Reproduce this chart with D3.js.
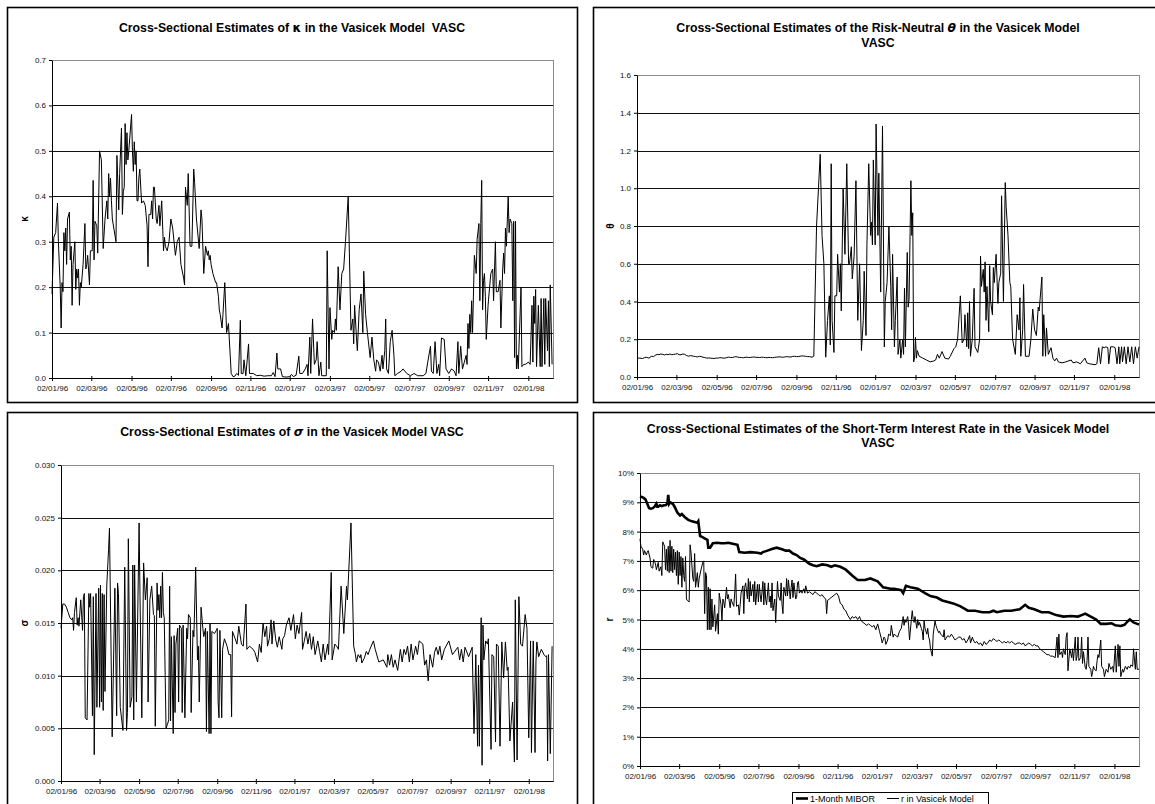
<!DOCTYPE html>
<html>
<head>
<meta charset="utf-8">
<script src="https://cdn.jsdelivr.net/npm/d3@7"></script>
<style>
  html, body { margin: 0; padding: 0; background: #fff; }
  svg { display: block; }
  text { font-family: "Liberation Sans", Arial, Helvetica, sans-serif; white-space: pre; }
</style>
</head>
<body>
<svg id="chart" width="1155" height="804"></svg>
<script>
// ---- Observation axis (trading days) and its date labels ----
const obsLast = 548;
const dateTickObs = [0, 43, 87, 130, 174, 217, 260, 304, 347, 391, 434, 477, 521];
const dateLabels = ["02/01/96", "02/03/96", "02/05/96", "02/07/96", "02/09/96", "02/11/96",
  "02/01/97", "02/03/97", "02/05/97", "02/07/97", "02/09/97", "02/11/97", "02/01/98"];

// ---- Y tick values per panel ----
const kappaTicks = [0, 0.1, 0.2, 0.3, 0.4, 0.5, 0.6, 0.7];
const thetaTicks = [0, 0.2, 0.4, 0.6, 0.8, 1.0, 1.2, 1.4, 1.6];
const sigmaTicks = [0, 0.005, 0.010, 0.015, 0.020, 0.025, 0.030];
const rateTicks = [0, 1, 2, 3, 4, 5, 6, 7, 8, 9, 10];

// ---- Series: [observation, value] ----
const kappa = [[0,.185],[2,.31],[4,.32],[6,.385],[7,.3],[9,.2],[10,.11],[11,.21],[12,.19],[13,.32],[14,.28],[15,.33],[16,.25],[17,.35],[19,.365],[20,.26],[21,.29],[22,.16],[23,.25],[25,.3],[26,.195],[27,.24],[28,.22],[29,.24],[30,.16],[31,.21],[32,.2],[34,.25],[36,.34],[37,.24],[38,.25],[39,.27],[41,.205],[42,.28],[44,.28],[45,.435],[46,.26],[47,.345],[49,.335],[50,.275],[52,.5],[54,.48],[56,.285],[58,.35],[60,.39],[61,.35],[62,.45],[63,.4],[64,.44],[65,.39],[66,.35],[70,.3],[71,.49],[73,.37],[74,.45],[76,.55],[77,.36],[78,.41],[79,.42],[80,.56],[81,.47],[82,.54],[83,.48],[84,.5],[87,.58],[88,.5],[89,.455],[90,.52],[91,.47],[92,.5],[93,.39],[94,.39],[95,.44],[96,.46],[98,.385],[100,.39],[102,.38],[104,.335],[105,.245],[106,.36],[108,.36],[109,.39],[110,.35],[111,.42],[112,.42],[114,.35],[115,.34],[117,.38],[118,.335],[120,.39],[122,.28],[123,.31],[124,.29],[126,.28],[128,.3],[130,.35],[132,.33],[135,.27],[137,.3],[139,.31],[141,.25],[144,.22],[145,.205],[146,.42],[148,.38],[149,.45],[151,.29],[153,.29],[155,.46],[156,.43],[158,.35],[161,.285],[163,.37],[164,.35],[166,.23],[168,.29],[170,.27],[171,.28],[172,.26],[173,.27],[174,.25],[176,.23],[179,.21],[180,.21],[182,.18],[183,.15],[184,.14],[186,.11],[187,.14],[189,.21],[191,.1],[193,.12],[196,.01],[198,.003],[200,.004],[202,.01],[204,.006],[206,.127],[207,.01],[209,.01],[210,.04],[212,.005],[215,.075],[216,.01],[220,.01],[224,.005],[228,.006],[232,.004],[236,.005],[240,.005],[242,.012],[244,.003],[246,.055],[247,.02],[250,.02],[252,.003],[256,.002],[260,.003],[262,.008],[264,.003],[267,.006],[270,.048],[271,.01],[274,.01],[277,.02],[279,.03],[280,.005],[282,.09],[283,.01],[285,.13],[287,.03],[289,.04],[290,.08],[292,.005],[294,.035],[295,.005],[300,.005],[301,.28],[303,.02],[304,.155],[306,.085],[307,.105],[309,.1],[310,.13],[311,.105],[313,.245],[315,.15],[317,.23],[319,.24],[321,.3],[324,.4],[327,.105],[329,.13],[330,.075],[331,.16],[333,.09],[334,.06],[336,.15],[338,.185],[340,.1],[341,.235],[343,.14],[345,.1],[348,.045],[350,.09],[352,.04],[354,.015],[355,.04],[357,.035],[359,.015],[361,.05],[362,.02],[364,.06],[365,.13],[366,.02],[368,.01],[370,.08],[372,.105],[374,.05],[375,.005],[378,.01],[382,.015],[384,.02],[388,.01],[392,.005],[396,.01],[400,.005],[406,.005],[409,.01],[411,.035],[414,.07],[415,.015],[417,.01],[419,.08],[421,.01],[423,.03],[424,.005],[426,.088],[429,.085],[431,.02],[434,.01],[437,.02],[440,.015],[442,.005],[444,.08],[445,.01],[447,.07],[449,.02],[451,.035],[453,.05],[454,.03],[455,.12],[456,.065],[457,.14],[458,.1],[459,.17],[460,.1],[462,.27],[464,.23],[465,.305],[467,.34],[468,.17],[469,.34],[470,.435],[471,.15],[472,.215],[473,.23],[474,.18],[475,.085],[477,.16],[478,.185],[480,.23],[482,.24],[483,.17],[485,.3],[486,.19],[488,.19],[490,.215],[491,.11],[493,.24],[494,.275],[495,.23],[496,.33],[497,.29],[499,.4],[500,.32],[501,.35],[503,.34],[504,.17],[505,.345],[506,.045],[507,.345],[508,.02],[509,.05],[510,.02],[513,.2],[514,.025],[516,.03],[518,.03],[521,.035],[523,.03],[525,.16],[526,.035],[527,.18],[528,.12],[529,.195],[530,.025],[532,.16],[534,.025],[535,.175],[536,.025],[538,.175],[539,.03],[540,.175],[542,.06],[543,.17],[544,.025],[545,.205],[547,.03]];

const theta = [[0,.1],[3,.1],[6,.098],[8,.102],[10,.105],[13,.1],[16,.11],[18,.108],[20,.115],[22,.12],[24,.118],[26,.122],[28,.12],[30,.117],[32,.12],[34,.118],[36,.122],[38,.118],[40,.12],[42,.121],[44,.124],[46,.118],[48,.118],[50,.122],[52,.12],[54,.114],[56,.11],[58,.113],[60,.112],[62,.11],[64,.108],[66,.106],[68,.11],[70,.108],[72,.105],[74,.103],[76,.1],[78,.101],[80,.1],[82,.099],[84,.098],[86,.1],[88,.1],[90,.102],[92,.102],[94,.1],[96,.1],[98,.103],[100,.105],[102,.104],[104,.103],[106,.106],[108,.108],[110,.105],[112,.104],[114,.103],[116,.102],[118,.104],[120,.105],[122,.103],[124,.104],[126,.105],[128,.106],[130,.104],[132,.104],[134,.103],[136,.105],[138,.104],[140,.103],[142,.102],[144,.104],[146,.103],[148,.102],[150,.104],[152,.105],[154,.106],[156,.107],[158,.105],[160,.105],[162,.107],[164,.108],[166,.106],[168,.106],[170,.109],[172,.11],[174,.108],[176,.108],[178,.11],[180,.112],[182,.111],[184,.11],[186,.108],[188,.108],[190,.106],[191,.105],[193,.11],[196,.8],[200,1.18],[202,.75],[204,.6],[206,.105],[208,.3],[210,.43],[211,.17],[212,1.13],[213,.3],[215,.13],[216,.43],[218,.43],[219,.65],[221,.45],[222,.6],[223,.35],[225,1.0],[227,.65],[229,1.13],[231,.6],[232,.6],[234,.69],[235,.52],[237,.64],[239,1.04],[241,.3],[243,.6],[245,.14],[247,.3],[248,.56],[250,.22],[251,.7],[253,1.13],[255,.75],[256,.82],[257,.7],[258,1.15],[260,.7],[261,1.34],[263,.75],[264,1.08],[266,.45],[268,1.33],[270,.16],[271,.4],[273,.5],[275,.8],[277,.48],[278,.25],[279,.65],[281,.16],[282,.3],[284,.53],[285,.12],[287,.2],[288,.1],[290,.2],[291,.12],[292,.47],[293,.16],[295,.66],[296,.37],[297,.41],[299,1.04],[300,.75],[301,.87],[302,.08],[303,.1],[304,.21],[305,.1],[306,.14],[308,.11],[312,.1],[316,.09],[320,.08],[324,.085],[326,.09],[328,.12],[330,.1],[333,.135],[336,.1],[340,.095],[342,.11],[346,.15],[348,.16],[350,.2],[353,.43],[355,.18],[357,.2],[358,.33],[360,.16],[361,.34],[362,.15],[363,.4],[364,.11],[366,.2],[368,.47],[369,.16],[372,.13],[374,.2],[375,.64],[376,.48],[378,.57],[379,.45],[380,.61],[381,.3],[382,.48],[384,.24],[385,.59],[386,.4],[388,.33],[389,.58],[390,.5],[392,.65],[394,.39],[395,.5],[397,.55],[398,.96],[400,.4],[402,1.03],[403,.9],[405,.75],[407,.5],[408,.48],[410,.2],[413,.12],[415,.33],[417,.25],[418,.42],[419,.11],[421,.25],[422,.49],[424,.11],[428,.11],[430,.2],[432,.36],[434,.25],[436,.22],[438,.37],[439,.35],[442,.53],[443,.11],[444,.33],[446,.11],[447,.26],[449,.12],[452,.155],[454,.1],[456,.085],[458,.1],[460,.08],[464,.075],[468,.08],[474,.09],[476,.075],[480,.08],[484,.07],[489,.1],[491,.075],[494,.07],[500,.065],[502,.07],[504,.155],[506,.07],[508,.16],[510,.155],[512,.16],[514,.155],[515,.07],[517,.16],[520,.16],[522,.155],[524,.07],[526,.16],[527,.07],[529,.16],[530,.08],[532,.16],[534,.07],[536,.16],[538,.08],[540,.16],[542,.07],[544,.16],[546,.1],[548,.16]];

const sigma = [[0,.0145],[2,.0168],[4,.0168],[6,.0165],[8,.016],[10,.0155],[12,.0153],[13,.0155],[14,.0143],[15,.016],[17,.0174],[18,.0148],[19,.0155],[20,.0147],[22,.0172],[24,.0143],[25,.0175],[26,.0178],[27,.006],[29,.0058],[31,.0178],[32,.0165],[33,.0178],[35,.0062],[36,.0175],[37,.0025],[39,.0178],[40,.007],[42,.0183],[43,.007],[44,.0186],[45,.0075],[46,.0178],[47,.0067],[48,.0177],[49,.0085],[51,.0186],[53,.022],[54,.024],[57,.0042],[60,.0183],[62,.0062],[63,.0188],[64,.0178],[66,.007],[69,.0048],[71,.0203],[73,.0048],[74,.0065],[75,.023],[77,.007],[79,.008],[80,.0205],[81,.0058],[82,.0205],[84,.0075],[87,.0245],[88,.0175],[90,.006],[92,.0207],[94,.0172],[96,.0193],[97,.0075],[99,.0172],[101,.0185],[103,.0158],[104,.0157],[105,.0052],[107,.0188],[108,.0162],[109,.0177],[110,.0155],[111,.0185],[112,.0155],[113,.0198],[114,.016],[115,.0155],[117,.005],[119,.0055],[120,.0058],[121,.0185],[122,.0057],[123,.0137],[125,.0045],[126,.0138],[127,.0065],[128,.013],[130,.0145],[131,.0075],[132,.0148],[134,.0145],[135,.0065],[136,.0148],[138,.006],[140,.0145],[141,.0135],[142,.0158],[144,.0155],[145,.0065],[147,.0143],[148,.0137],[150,.0203],[152,.0115],[153,.0128],[154,.0075],[156,.0165],[158,.0145],[159,.0137],[161,.0145],[162,.0047],[163,.0142],[165,.0045],[166,.015],[167,.0045],[168,.0142],[171,.014],[173,.0143],[174,.0145],[175,.0075],[176,.006],[177,.0143],[179,.006],[180,.0125],[182,.0135],[185,.0128],[187,.012],[189,.012],[190,.0061],[191,.0142],[194,.0135],[196,.013],[198,.0147],[201,.013],[203,.0128],[206,.0168],[207,.0125],[210,.0128],[214,.0125],[216,.0122],[219,.0113],[221,.013],[223,.0122],[225,.015],[227,.0137],[229,.0147],[230,.0128],[232,.0135],[234,.0153],[235,.013],[237,.0152],[239,.0135],[241,.0127],[243,.0137],[246,.0125],[247,.0135],[249,.0138],[251,.0148],[254,.0155],[256,.0143],[259,.0158],[261,.0135],[263,.0148],[265,.014],[268,.016],[269,.0125],[271,.0133],[273,.0142],[275,.013],[277,.014],[279,.0125],[281,.0137],[283,.012],[286,.0133],[288,.0123],[290,.0113],[292,.013],[294,.0115],[297,.013],[298,.012],[301,.0198],[302,.0115],[305,.013],[307,.0128],[309,.0125],[312,.0185],[315,.014],[318,.0185],[319,.0172],[320,.019],[323,.0245],[326,.0128],[328,.012],[329,.0113],[331,.012],[333,.0117],[334,.012],[335,.0112],[338,.0117],[340,.0123],[342,.012],[344,.0125],[348,.0133],[350,.0125],[354,.0113],[359,.0115],[363,.0108],[364,.012],[366,.011],[368,.012],[370,.0108],[372,.0115],[375,.0105],[378,.0125],[380,.0113],[382,.0125],[384,.012],[386,.0128],[388,.0113],[390,.013],[392,.0115],[395,.0128],[397,.012],[399,.0133],[403,.013],[405,.011],[407,.0115],[409,.0095],[411,.012],[414,.0108],[416,.0122],[418,.0127],[420,.012],[422,.0128],[424,.0115],[427,.0125],[432,.0133],[436,.012],[442,.0127],[444,.0115],[446,.0125],[448,.0113],[450,.0127],[454,.0118],[458,.0127],[460,.0045],[462,.012],[464,.0033],[465,.011],[466,.0033],[468,.0155],[469,.0015],[470,.0148],[471,.0115],[473,.0133],[475,.013],[476,.0135],[479,.003],[480,.012],[482,.0118],[484,.0037],[485,.013],[487,.0128],[489,.0033],[491,.0132],[493,.0098],[495,.0132],[497,.0105],[498,.0108],[500,.0038],[503,.0075],[505,.0018],[506,.0172],[508,.002],[510,.0175],[512,.013],[514,.0128],[517,.0158],[519,.0145],[521,.0041],[523,.0133],[524,.0027],[526,.0133],[528,.0027],[529,.0113],[530,.0132],[532,.0118],[535,.0125],[538,.012],[540,.0118],[541,.0119],[542,.0019],[543,.012],[545,.0026],[547,.0128]];

// Rates in percent
const mibor = [[0,9.2],[2,9.18],[4,9.15],[6,9.1],[8,8.95],[10,8.8],[12,8.78],[14,8.8],[16,8.85],[18,8.95],[19,8.85],[20,8.85],[22,8.9],[24,8.87],[26,8.9],[28,8.9],[30,8.95],[31,9.25],[32,8.95],[33,9.0],[36,8.95],[38,8.85],[41,8.65],[44,8.55],[46,8.6],[49,8.5],[53,8.4],[57,8.35],[61,8.32],[63,8.3],[64,8.35],[66,7.85],[69,7.8],[72,7.75],[74,7.72],[75,7.45],[77,7.45],[78,7.5],[80,7.6],[85,7.62],[89,7.6],[93,7.6],[97,7.62],[103,7.58],[107,7.55],[109,7.3],[115,7.28],[121,7.3],[129,7.28],[133,7.25],[135,7.3],[140,7.35],[144,7.4],[150,7.45],[156,7.4],[160,7.35],[164,7.35],[168,7.25],[172,7.2],[176,7.1],[180,7.05],[186,6.9],[190,6.85],[194,6.82],[200,6.88],[206,6.85],[210,6.8],[214,6.85],[220,6.8],[226,6.7],[233,6.5],[239,6.35],[247,6.35],[253,6.4],[261,6.3],[267,6.1],[275,6.05],[279,6.05],[287,6.0],[289,5.9],[292,6.15],[297,6.1],[305,6.05],[313,5.9],[319,5.8],[326,5.75],[332,5.65],[338,5.6],[344,5.55],[352,5.45],[360,5.3],[368,5.3],[376,5.25],[384,5.25],[388,5.3],[392,5.25],[400,5.3],[408,5.3],[417,5.35],[423,5.5],[427,5.4],[433,5.35],[441,5.25],[449,5.25],[457,5.15],[465,5.1],[473,5.12],[481,5.1],[485,5.15],[489,5.2],[495,5.1],[501,5.0],[506,4.85],[512,4.85],[518,4.87],[522,4.8],[528,4.78],[532,4.82],[536,4.95],[538,5.0],[542,4.9],[546,4.85],[548,4.83]];

const rVasicek = [[0,7.75],[1,7.5],[3,7.4],[4,7.2],[5,7.35],[7,7.2],[8,7.3],[9,7.35],[11,7.1],[12,6.8],[14,6.75],[15,7.05],[17,6.9],[18,6.7],[20,6.95],[21,6.65],[23,6.8],[24,6.5],[25,7.65],[27,7.5],[28,6.7],[29,7.4],[30,6.65],[31,7.5],[32,6.6],[33,7.7],[34,6.65],[35,7.5],[36,6.6],[37,7.4],[38,6.7],[39,7.3],[40,6.5],[41,7.35],[42,6.2],[43,7.3],[44,6.5],[45,7.15],[46,6.1],[47,7.1],[48,6.5],[49,6.3],[50,7.15],[51,5.7],[52,5.65],[54,5.6],[55,7.55],[56,7.3],[58,6.4],[59,6.3],[60,7.25],[61,6.1],[63,6.6],[64,6.1],[65,6.4],[67,6.7],[69,6.95],[70,7.0],[71,5.2],[72,6.6],[73,6.5],[74,4.65],[75,6.1],[76,4.65],[77,6.05],[78,4.65],[79,5.7],[80,4.75],[82,5.5],[83,4.6],[85,5.2],[86,4.5],[87,5.9],[89,5.5],[90,4.95],[91,5.7],[92,5.6],[93,5.4],[95,6.1],[96,5.7],[97,5.85],[99,5.4],[100,5.7],[101,5.6],[103,5.45],[104,5.9],[105,6.55],[106,5.45],[108,5.5],[109,5.15],[110,5.5],[111,5.9],[113,6.15],[114,5.2],[115,6.1],[116,6.25],[118,5.7],[119,6.4],[120,5.6],[121,6.3],[122,5.8],[124,6.2],[125,5.6],[126,6.3],[127,5.5],[129,6.2],[130,5.6],[131,6.2],[132,5.85],[133,5.6],[135,6.3],[136,5.5],[137,6.25],[138,5.7],[139,5.5],[141,6.25],[142,5.6],[143,5.8],[144,5.4],[145,6.25],[146,5.3],[148,5.7],[149,4.9],[150,5.6],[151,6.3],[152,5.8],[154,5.65],[155,6.25],[156,5.5],[157,5.2],[158,6.1],[160,5.8],[161,6.4],[162,5.8],[163,6.35],[165,5.7],[166,6.1],[167,6.35],[168,5.75],[169,6.25],[171,5.7],[172,5.75],[173,6.25],[174,6.3],[175,5.9],[177,6.0],[178,5.9],[180,6.05],[181,5.9],[182,6.15],[184,5.9],[186,5.95],[188,5.9],[190,5.85],[192,5.95],[194,5.9],[196,5.85],[198,5.8],[200,5.85],[202,5.75],[204,5.7],[205,5.2],[206,5.65],[208,5.7],[210,5.75],[212,5.8],[214,5.85],[216,5.9],[218,5.8],[220,5.55],[222,5.5],[224,5.35],[226,5.3],[228,5.15],[231,5.0],[233,5.1],[235,5.05],[237,5.1],[239,5.0],[241,5.1],[243,4.95],[245,4.9],[247,4.85],[249,4.8],[251,4.85],[253,4.8],[255,4.75],[257,4.8],[259,4.65],[261,4.85],[263,4.6],[265,4.35],[266,4.2],[268,4.4],[269,4.35],[270,4.15],[272,4.3],[273,4.5],[275,4.45],[276,4.8],[278,4.4],[279,4.5],[281,4.45],[283,4.4],[285,4.6],[287,4.7],[289,5.1],[290,4.8],[291,5.0],[292,4.9],[294,5.1],[295,4.8],[296,4.3],[298,5.0],[299,5.3],[300,5.0],[301,4.9],[302,5.1],[304,4.7],[305,5.0],[306,4.8],[307,4.9],[309,4.7],[310,4.6],[311,4.3],[312,4.95],[313,4.7],[315,4.5],[316,4.7],[317,4.4],[318,4.3],[319,4.0],[321,3.75],[322,4.5],[324,4.95],[325,4.8],[326,4.7],[328,4.55],[329,4.6],[330,4.5],[332,4.45],[333,4.4],[334,4.65],[335,4.3],[336,4.35],[338,4.45],[340,4.4],[342,4.5],[344,4.4],[346,4.3],[348,4.35],[350,4.4],[352,4.4],[354,4.3],[356,4.35],[358,4.2],[360,4.3],[362,4.45],[363,4.2],[365,4.4],[366,4.3],[368,4.2],[370,4.25],[372,4.15],[374,4.2],[376,4.1],[378,4.25],[380,4.15],[382,4.2],[384,4.3],[386,4.25],[388,4.35],[390,4.3],[392,4.25],[394,4.3],[396,4.25],[398,4.2],[400,4.25],[402,4.2],[404,4.25],[406,4.2],[408,4.25],[410,4.2],[412,4.15],[415,4.2],[417,4.2],[419,4.15],[421,4.2],[423,4.1],[425,4.15],[427,4.2],[429,4.15],[431,4.1],[433,4.15],[435,4.1],[437,4.1],[439,4.0],[441,3.95],[443,3.9],[445,3.85],[447,3.8],[449,3.8],[451,3.75],[453,3.75],[456,3.7],[458,4.4],[459,3.7],[460,4.5],[461,3.8],[463,3.9],[464,3.7],[465,4.0],[467,3.8],[468,4.4],[469,4.55],[470,3.25],[472,4.0],[473,3.85],[474,3.7],[475,4.0],[476,3.6],[478,4.4],[479,3.6],[480,3.75],[481,4.4],[482,3.6],[484,3.7],[485,4.4],[486,3.5],[487,3.9],[489,3.35],[490,3.3],[491,3.6],[492,4.4],[493,3.4],[495,3.3],[496,3.05],[497,3.2],[498,3.4],[499,3.3],[501,3.25],[502,3.6],[503,3.8],[504,3.7],[506,4.3],[507,3.4],[509,3.3],[510,3.05],[512,3.3],[514,3.2],[515,3.5],[517,3.3],[519,3.4],[520,3.2],[522,4.1],[523,3.2],[525,4.15],[526,3.4],[527,4.1],[528,3.05],[530,3.3],[531,3.2],[533,3.4],[535,3.3],[536,3.4],[538,3.35],[539,3.45],[541,3.4],[542,4.0],[544,3.3],[545,3.9],[546,3.3],[548,3.3]];

// ---- Panel layout ----
const svg = d3.select("#chart");

const panels = [
  {
    frame: {x: 7, y: 7, w: 570, h: 395},
    plot: {l: 52, r: 553, t: 60, b: 378},
    cx: 292, titleY: [28],
    title: [[{t: "Cross-Sectional Estimates of "}, {t: "\u03BA", g: true}, {t: " in the Vasicek Model  VASC"}]],
    yLabel: {t: "\u03BA", x: 24},
    yDomain: [0, 0.7], yTicks: kappaTicks, yFmt: d3.format(".1f"),
    series: [{data: kappa, w: 1}]
  },
  {
    frame: {x: 593, y: 7, w: 570, h: 395},
    plot: {l: 637, r: 1139, t: 75, b: 377},
    cx: 878, titleY: [28, 43],
    title: [[{t: "Cross-Sectional Estimates of the Risk-Neutral "}, {t: "\u03B8", g: true, i: true}, {t: " in the Vasicek Model"}], [{t: "VASC"}]],
    yLabel: {t: "\u03B8", x: 610},
    yDomain: [0, 1.6], yTicks: thetaTicks, yFmt: d3.format(".1f"),
    series: [{data: theta, w: 1}]
  },
  {
    frame: {x: 7, y: 412, w: 570, h: 400},
    plot: {l: 61, r: 553, t: 465, b: 781},
    cx: 292, titleY: [432],
    title: [[{t: "Cross-Sectional Estimates of "}, {t: "\u03C3", g: true, i: true}, {t: " in the Vasicek Model VASC"}]],
    yLabel: {t: "\u03C3", x: 24},
    yDomain: [0, 0.030], yTicks: sigmaTicks, yFmt: d3.format(".3f"),
    series: [{data: sigma, w: 1}]
  },
  {
    frame: {x: 593, y: 412, w: 570, h: 400},
    plot: {l: 640, r: 1139, t: 473, b: 766},
    cx: 878, titleY: [429, 443],
    title: [[{t: "Cross-Sectional Estimates of the Short-Term Interest Rate in the Vasicek Model"}], [{t: "VASC"}]],
    yLabel: {t: "r", x: 609},
    yDomain: [0, 10], yTicks: rateTicks, yFmt: d => d + "%",
    series: [{data: mibor, w: 2.6}, {data: rVasicek, w: 1}]
  }
];

panels.forEach(p => {
  const g = svg.append("g");
  const P = p.plot;

  // Panel frame
  g.append("rect")
    .attr("x", p.frame.x + 0.5).attr("y", p.frame.y + 0.5)
    .attr("width", p.frame.w).attr("height", p.frame.h)
    .attr("fill", "#fff").attr("stroke", "#000").attr("stroke-width", 1.6);

  // Title
  p.title.forEach((line, li) => {
    const t = g.append("text")
      .attr("x", p.cx).attr("y", p.titleY[li])
      .attr("dy", "0.35em")
      .attr("text-anchor", "middle")
      .attr("font-size", "12.3px").attr("font-weight", "bold").attr("fill", "#000");
    line.forEach(seg => {
      const s = t.append("tspan").text(seg.t);
      if (seg.g) s.attr("font-family", "'DejaVu Sans', 'Liberation Sans', sans-serif");
      if (seg.i) s.attr("font-style", "italic");
    });
  });

  const x = d3.scaleLinear().domain([0, obsLast]).range([P.l, P.r]);
  const y = d3.scaleLinear().domain(p.yDomain).range([P.b, P.t]);

  // Plot area border
  g.append("rect")
    .attr("x", P.l + 0.5).attr("y", P.t + 0.5)
    .attr("width", P.r - P.l).attr("height", P.b - P.t)
    .attr("fill", "none").attr("stroke", "#8c8c8c").attr("stroke-width", 1)
    .attr("shape-rendering", "crispEdges");

  // Horizontal gridlines
  g.append("g").selectAll("line")
    .data(p.yTicks.filter(v => v > p.yDomain[0] && v < p.yDomain[1]))
    .join("line")
    .attr("x1", P.l).attr("x2", P.r)
    .attr("y1", d => Math.round(y(d)) + 0.5).attr("y2", d => Math.round(y(d)) + 0.5)
    .attr("stroke", "#111").attr("stroke-width", 1)
    .attr("shape-rendering", "crispEdges");

  // Y axis
  const ya = g.append("g")
    .attr("transform", `translate(${P.l},0)`)
    .call(d3.axisLeft(y).tickValues(p.yTicks).tickFormat(p.yFmt).tickSize(3).tickSizeOuter(0).tickPadding(3));
  ya.select(".domain").attr("stroke", "#000");
  ya.selectAll(".tick line").attr("stroke", "#000");
  ya.selectAll(".tick text").attr("font-size", "8px").attr("fill", "#111")
    .attr("font-family", "'Liberation Sans', Arial, sans-serif");

  // X axis
  const xa = g.append("g")
    .attr("transform", `translate(0,${P.b})`)
    .call(d3.axisBottom(x).tickValues(dateTickObs).tickFormat((d, i) => dateLabels[i]).tickSize(3).tickSizeOuter(0).tickPadding(4));
  xa.select(".domain").attr("stroke", "#000");
  xa.selectAll(".tick line").attr("stroke", "#000").attr("y1", -2);
  xa.selectAll(".tick text").attr("font-size", "8px").attr("fill", "#111")
    .attr("font-family", "'Liberation Sans', Arial, sans-serif");

  // Y axis title (rotated)
  const cy = (P.t + P.b) / 2;
  g.append("text")
    .attr("transform", `translate(${p.yLabel.x},${cy}) rotate(-90)`)
    .attr("text-anchor", "middle").attr("dy", "0.35em")
    .attr("font-size", "10px").attr("font-weight", "bold")
    .attr("font-family", "'DejaVu Sans', 'Liberation Sans', sans-serif")
    .text(p.yLabel.t);

  // Series lines
  const line = d3.line().x(d => x(d[0])).y(d => y(d[1]));
  p.series.forEach(s => {
    g.append("path")
      .datum(s.data)
      .attr("d", line)
      .attr("fill", "none")
      .attr("stroke", "#000")
      .attr("stroke-width", s.w)
      .attr("stroke-linejoin", "miter");
  });
});

// Legend for the interest-rate panel
const lg = svg.append("g");
lg.append("rect").attr("x", 792.5).attr("y", 792.5).attr("width", 196).attr("height", 20)
  .attr("fill", "#fff").attr("stroke", "#000").attr("stroke-width", 1);
const legendItems = [
  {label: "1-Month MIBOR", w: 2.6, x: 796},
  {label: "r in Vasicek Model", w: 1, x: 887}
];
legendItems.forEach(it => {
  lg.append("line").attr("x1", it.x).attr("x2", it.x + 12).attr("y1", 798.5).attr("y2", 798.5)
    .attr("stroke", "#000").attr("stroke-width", it.w);
  lg.append("text").attr("x", it.x + 14).attr("y", 798.5).attr("dy", "0.35em")
    .attr("font-size", "9px").attr("fill", "#000").text(it.label);
});
</script>
</body>
</html>
